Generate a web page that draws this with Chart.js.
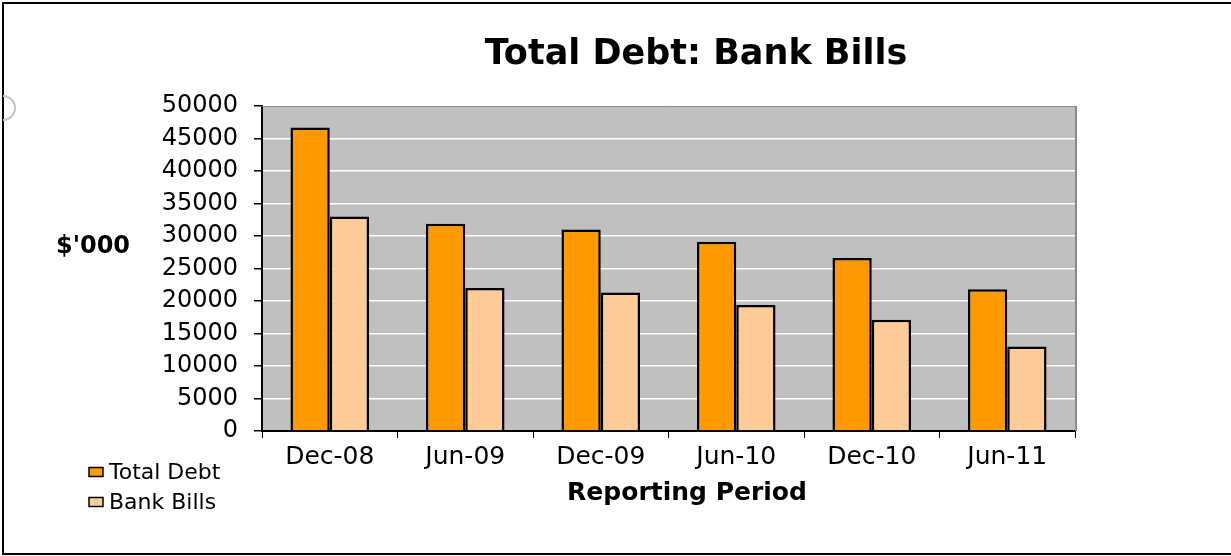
<!DOCTYPE html>
<html>
<head>
<meta charset="utf-8">
<script src="https://cdn.jsdelivr.net/npm/chart.js@4/dist/chart.umd.min.js"></script>
<style>
  html, body { margin: 0; padding: 0; background: #fff; }
  #wrap { width: 1231px; height: 556px; position: relative; }
</style>
</head>
<body>
<div id="wrap"><canvas id="c" width="1231" height="556"></canvas></div>
<script>
const categories = ["Dec-08", "Jun-09", "Dec-09", "Jun-10", "Dec-10", "Jun-11"];
const totalDebt = [46700, 31900, 31000, 29100, 26600, 21800];
const bankBills = [33000, 22000, 21300, 19400, 17100, 13000];
const seriesNames = ["Total Debt", "Bank Bills"];
const chartTitle = "Total Debt: Bank Bills";
const yAxisTitle = "$'000";
const xAxisTitle = "Reporting Period";

const FONT = "'DejaVu Sans', 'Liberation Sans', Arial, sans-serif";

const decorPlugin = {
  id: 'decor',
  beforeDraw(chart) {
    const { ctx, chartArea: a } = chart;
    ctx.save();
    ctx.fillStyle = '#ffffff';
    ctx.fillRect(0, 0, chart.width, chart.height);
    ctx.fillStyle = '#C0C0C0';
    ctx.fillRect(a.left, a.top, a.right - a.left, a.bottom - a.top);
    ctx.restore();
  },
  afterDatasetsDraw(chart) {
    const { ctx, chartArea: a } = chart;
    ctx.save();
    ctx.strokeStyle = '#8a8a8a';
    ctx.lineWidth = 1;
    ctx.beginPath();
    ctx.moveTo(a.left, a.top + 0.5);
    ctx.lineTo(a.right, a.top + 0.5);
    ctx.stroke();
    ctx.lineWidth = 2;
    ctx.beginPath();
    ctx.moveTo(a.right + 1, a.top);
    ctx.lineTo(a.right + 1, a.bottom);
    ctx.stroke();
    ctx.restore();
  },
  afterDraw(chart) {
    const { ctx } = chart;
    ctx.save();
    ctx.strokeStyle = '#000';
    ctx.lineWidth = 2;
    ctx.beginPath();
    ctx.moveTo(chart.width, 3);
    ctx.lineTo(3, 3);
    ctx.lineTo(3, 554);
    ctx.lineTo(chart.width, 554);
    ctx.stroke();
    ctx.strokeStyle = '#c4c4c4';
    ctx.lineWidth = 2;
    ctx.beginPath();
    ctx.arc(3, 108, 12, -Math.PI / 2, Math.PI / 2);
    ctx.stroke();

    ctx.fillStyle = '#000';
    ctx.textBaseline = 'middle';
    ctx.textAlign = 'center';
    ctx.font = "bold 35px " + FONT;
    ctx.fillText(chartTitle, 696, 55);
    ctx.font = "bold 24px " + FONT;
    ctx.fillText(yAxisTitle, 93, 247);
    ctx.font = "bold 25px " + FONT;
    ctx.fillText(xAxisTitle, 687, 493);
    ctx.font = "22px " + FONT;
    ctx.textAlign = 'left';
    const ys = [472, 502];
    chart.data.datasets.forEach((ds, i) => {
      ctx.fillStyle = ds.backgroundColor;
      ctx.fillRect(89, ys[i] - 4.5, 14, 9);
      ctx.strokeStyle = '#000';
      ctx.lineWidth = 1.5;
      ctx.strokeRect(89, ys[i] - 4.5, 14, 9);
      ctx.fillStyle = '#000';
      ctx.fillText(ds.label, 109, ys[i] + 1);
    });
    ctx.restore();
  }
};

new Chart(document.getElementById('c'), {
  type: 'bar',
  data: {
    labels: categories,
    datasets: [
      { label: seriesNames[0], data: totalDebt, backgroundColor: '#FF9900', borderColor: '#000', borderWidth: 2.5 },
      { label: seriesNames[1], data: bankBills, backgroundColor: '#FFCC99', borderColor: '#000', borderWidth: 2.5 }
    ]
  },
  options: {
    responsive: false,
    animation: false,
    devicePixelRatio: 1,
    layout: { padding: { left: 0, right: 156, top: 106, bottom: 0 } },
    datasets: { bar: { categoryPercentage: 0.58, barPercentage: 1.0 } },
    plugins: {
      legend: { display: false },
      title: { display: false },
      tooltip: { enabled: false }
    },
    scales: {
      x: {
        offset: true,
        afterFit(scale) { scale.height = 125; },
        grid: { offset: true, drawOnChartArea: false, tickColor: '#000', tickLength: 7, lineWidth: 1 },
        border: { color: '#000', width: 2 },
        ticks: { color: '#000', font: { family: FONT, size: 25 }, padding: 4, maxRotation: 0, autoSkip: false }
      },
      y: {
        min: 0, max: 50000,
        afterFit(scale) { scale.width = 262; },
        grid: { color: '#ffffff', lineWidth: 1.5, tickColor: '#000', tickLength: 8 },
        border: { color: '#000', width: 2 },
        ticks: { stepSize: 5000, color: '#000', font: { family: FONT, size: 24 }, padding: 16,
                 autoSkip: false, callback: (v) => String(v) }
      }
    }
  },
  plugins: [decorPlugin]
});
</script>
</body>
</html>
